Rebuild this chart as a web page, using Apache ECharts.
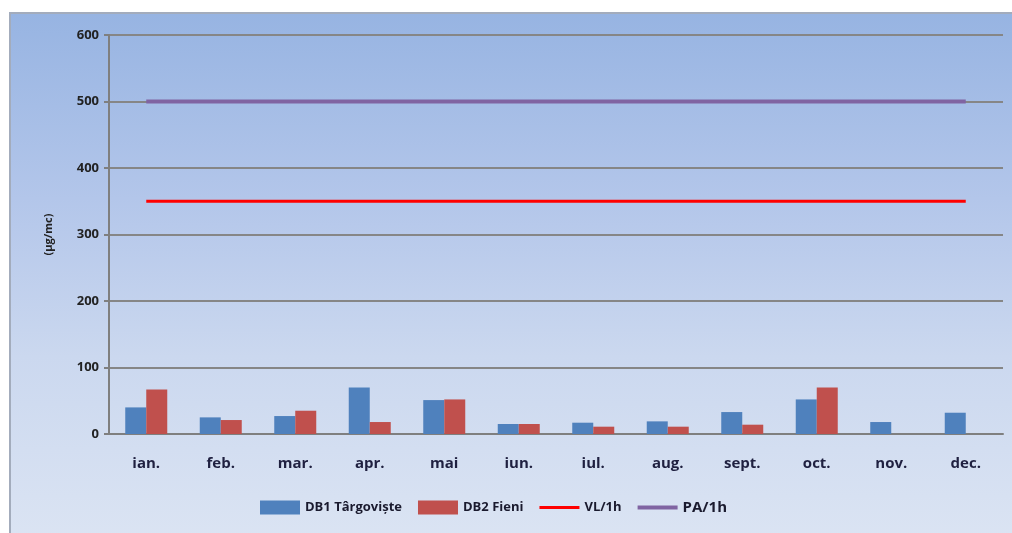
<!DOCTYPE html>
<html>
<head>
<meta charset="utf-8">
<script src="https://cdn.jsdelivr.net/npm/echarts@6/dist/echarts.min.js"></script>
<style>
html,body{margin:0;padding:0;background:#fff;width:1012px;height:533px;overflow:hidden;}
#frame{position:absolute;left:9px;top:12px;width:1010px;height:530px;border-left:2px solid #a3acbc;border-top:2px solid #a3acbc;box-sizing:border-box;
background:linear-gradient(to bottom,#97b4e2 0%,#b3c6ea 35%,#cbd8ef 65%,#dbe4f3 100%);}
#chart{position:absolute;left:0;top:0;width:1012px;height:533px;}
</style>
</head>
<body>
<div id="frame"></div>
<div id="chart"></div>
<script>
const categories = ['ian.','feb.','mar.','apr.','mai','iun.','iul.','aug.','sept.','oct.','nov.','dec.'];
const db1Targoviste = [40, 25, 27, 70, 51, 15, 17, 19, 33, 52, 18, 32];
const db2Fieni = [67, 21, 35, 18, 52, 15, 11, 11, 14, 70, null, null];
const vl1h = [350,350,350,350,350,350,350,350,350,350,350,350];
const pa1h = [500,500,500,500,500,500,500,500,500,500,500,500];
const yTicks = [0,100,200,300,400,500,600];

const chart = echarts.init(document.getElementById('chart'), null, {renderer:'canvas'});
chart.setOption({
  backgroundColor: 'transparent',
  animation: false,
  grid: {left:109, right:9, top:35, bottom:99, containLabel:false},
  legend: {
    bottom: 13, left: 255,
    itemWidth: 40, itemHeight: 14, itemGap: 16,
    textStyle: {fontFamily:'Open Sans', fontSize: 13, fontWeight:'bold', color:'#1a1a2e'},
    data: [
      {name:'DB1 Târgoviște', icon:'rect'},
      {name:'DB2 Fieni', icon:'rect'},
      {name:'VL/1h', icon:'path://M0,0 L40,0 L40,3 L0,3 Z'},
      {name:'PA/1h', icon:'path://M0,0 L40,0 L40,4 L0,4 Z', textStyle:{fontSize:15}}
    ]
  },
  xAxis: {
    type:'category', data: categories, boundaryGap:true,
    axisLine:{show:true, lineStyle:{color:'#7f7f7f', width:2}},
    axisTick:{show:false},
    axisLabel:{margin:22, fontFamily:'Open Sans', fontSize:15, fontWeight:'bold', color:'#1f2040'},
    splitLine:{show:false}
  },
  yAxis: {
    type:'value', min:0, max:600, interval:100,
    name:'(µg/mc)', nameLocation:'middle', nameGap:55, nameRotate:90,
    nameTextStyle:{fontFamily:'Open Sans', fontSize:11, fontWeight:'bold', color:'#222'},
    axisLine:{show:true, lineStyle:{color:'#7f7f7f', width:2}},
    axisTick:{show:true, inside:false, length:5, lineStyle:{color:'#7f7f7f', width:2}},
    axisLabel:{margin:10, fontFamily:'Open Sans', fontSize:13, fontWeight:'bold', color:'#222',
      formatter: v => yTicks.includes(v) ? String(v) : ''},
    splitLine:{show:true, lineStyle:{color:'#868686', width:2}}
  },
  series: [
    {name:'DB1 Târgoviște', type:'bar', data: db1Targoviste, barWidth:21, barGap:'0%', itemStyle:{color:'#4f81bd'}},
    {name:'DB2 Fieni', type:'bar', data: db2Fieni, barWidth:21, barGap:'0%', itemStyle:{color:'#c0504d'}},
    {name:'VL/1h', type:'line', data: vl1h, symbol:'none', lineStyle:{color:'#ff0000', width:3}, itemStyle:{color:'#ff0000'}, z:5},
    {name:'PA/1h', type:'line', data: pa1h, symbol:'none', lineStyle:{color:'#8064a2', width:4}, itemStyle:{color:'#8064a2'}, z:5}
  ]
});
</script>
</body>
</html>
